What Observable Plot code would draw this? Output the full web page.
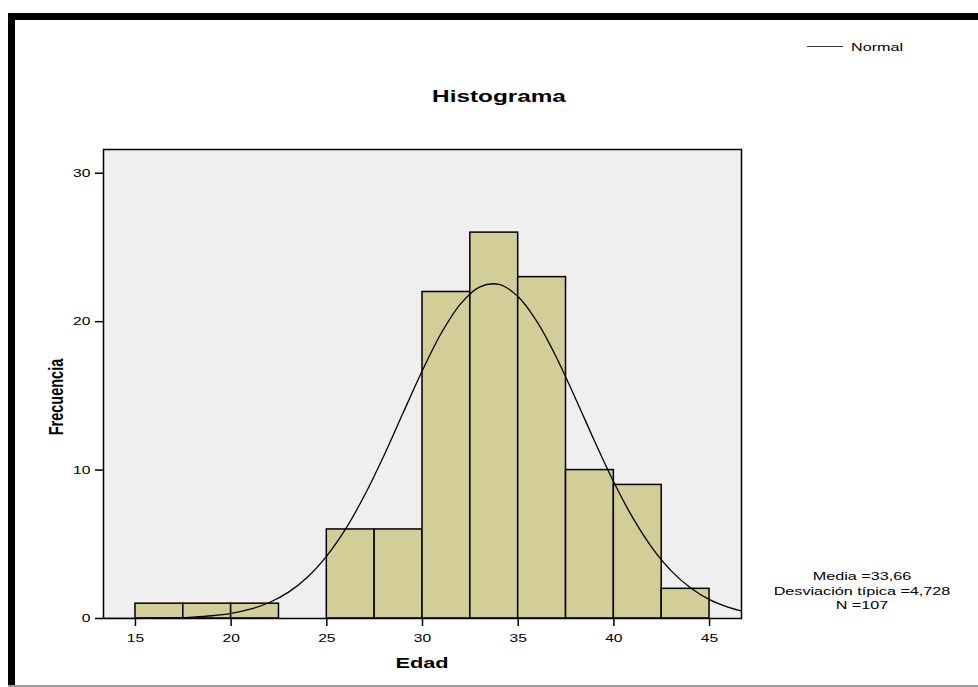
<!DOCTYPE html>
<html><head><meta charset="utf-8">
<script src="https://cdn.jsdelivr.net/npm/d3@7"></script>
<script src="https://cdn.jsdelivr.net/npm/@observablehq/plot@0.6"></script>
<style>
body{margin:0;background:#fff;}
#wrap{position:relative;width:978px;height:687px;overflow:hidden;font-family:"Liberation Sans",Arial,Helvetica,sans-serif;color:#000;}
#chart{position:absolute;left:0;top:0;}
.ov{position:absolute;white-space:nowrap;}
#btop{left:8px;top:13px;width:970px;height:7px;background:#000;}
#bleft{left:8px;top:13px;width:7px;height:674px;background:#000;}
#bbot{left:8px;top:685px;width:970px;height:2px;background:#9a9a9a;}
#title{left:0;width:998px;top:89px;text-align:center;font-weight:bold;font-size:16px;line-height:1;transform:scaleX(1.52);transform-origin:499px 0;}
#xlab{left:0;width:844px;top:655px;text-align:center;font-weight:bold;font-size:15px;line-height:1;transform:scaleX(1.45);transform-origin:422px 0;}
#ylab{left:56px;top:397px;transform:translate(-50%,-50%) scaleX(1.45) rotate(-90deg);font-weight:bold;font-size:14.5px;line-height:1;}
#legline{left:807px;top:46px;width:36px;height:1px;background:#333;}
#legtext{left:851px;top:41px;font-size:11px;line-height:13px;transform:scaleX(1.47);transform-origin:0 0;}
#stats{left:762px;width:200px;top:569px;text-align:center;font-size:11px;line-height:14.5px;transform:scaleX(1.47);transform-origin:100px 0;}
</style></head><body>
<div id="wrap">
  <div id="chart"></div>
  <div class="ov" id="btop"></div>
  <div class="ov" id="bleft"></div>
  <div class="ov" id="bbot"></div>
  <div class="ov" id="title"></div>
  <div class="ov" id="xlab"></div>
  <div class="ov" id="ylab"></div>
  <div class="ov" id="legline"></div>
  <div class="ov" id="legtext"></div>
  <div class="ov" id="stats"></div>
</div>
<script>
// ---- data ----
const titleText = "Histograma";
const xLabel = "Edad";
const yLabel = "Frecuencia";
const legendLabel = "Normal";
const binStart = [15, 17.5, 20, 22.5, 25, 27.5, 30, 32.5, 35, 37.5, 40, 42.5];
const counts   = [1, 1, 1, 0, 6, 6, 22, 26, 23, 10, 9, 2];
const binWidth = 2.5;
// Normal curve (mean 33.66, sd 4.728, N 107)
const curveX = [13.33, 14, 15, 16, 17, 18, 19, 20, 21, 22, 23, 24, 25, 26, 27, 28, 29, 30, 31, 32, 33, 34, 35, 36, 37, 38, 39, 40, 41, 42, 43, 44, 45, 46, 46.67];
const curveY = [0.003, 0.004, 0.009, 0.021, 0.045, 0.094, 0.184, 0.347, 0.626, 1.079, 1.776, 2.80, 4.22, 6.07, 8.37, 11.02, 13.89, 16.73, 19.27, 21.22, 22.35, 22.51, 21.68, 19.97, 17.59, 14.81, 11.93, 9.18, 6.76, 4.76, 3.21, 2.07, 1.27, 0.75, 0.51];
const xTicks = [15, 20, 25, 30, 35, 40, 45];
const yTicks = [0, 10, 20, 30];
const statsLines = ["Media =33,66", "Desviación típica =4,728", "N =107"];

// ---- build ----
const bars = binStart.map((s, i) => ({x1: s, x2: s + binWidth, y: counts[i]})).filter(d => d.y > 0);
const curve = curveX.map((x, i) => ({x, y: curveY[i]}));

const plot = Plot.plot({
  width: 978,
  height: 687,
  marginLeft: 103,
  marginRight: 237,
  marginTop: 149,
  marginBottom: 69,
  style: {fontFamily: '"Liberation Sans", Arial, sans-serif', fontSize: "11px", background: "transparent", color: "#000"},
  x: {domain: [13.33, 46.67], ticks: xTicks, tickSize: 8, tickPadding: 8, label: null},
  y: {domain: [0, 31.6], ticks: yTicks, tickSize: 8, tickPadding: 5, label: null},
  marks: [
    Plot.frame({fill: "#efefef"}),
    Plot.rectY(bars, {x1: "x1", x2: "x2", y: "y", fill: "#d3ce98", stroke: "#000", strokeWidth: 1.5}),
    Plot.line(curve, {x: "x", y: "y", stroke: "#000", strokeWidth: 1.3, curve: "catmull-rom", clip: true}),
    Plot.frame({stroke: "#000", strokeWidth: 1.5}),
    Plot.axisX({ticks: xTicks, tickSize: 8, tickPadding: 8, label: null, strokeWidth: 1.5}),
    Plot.axisY({ticks: yTicks, tickSize: 8, tickPadding: 5, label: null, strokeWidth: 1.5})
  ]
});
// the reference is stretched horizontally: widen tick label glyphs
d3.select(plot).selectAll("text").each(function () {
  const t = this.getAttribute("transform");
  if (t) {
    this.setAttribute("transform", t + " scale(1.42,1)");
  } else {
    const x = +this.getAttribute("x") || 0, y = +this.getAttribute("y") || 0;
    this.removeAttribute("x"); this.removeAttribute("y");
    this.setAttribute("transform", `translate(${x},${y}) scale(1.42,1)`);
  }
});
document.getElementById("chart").appendChild(plot);
document.getElementById("title").textContent = titleText;
document.getElementById("xlab").textContent = xLabel;
document.getElementById("ylab").textContent = yLabel;
document.getElementById("legtext").textContent = legendLabel;
document.getElementById("stats").innerHTML = statsLines.map(s => `<div>${s}</div>`).join("");
</script>
</body></html>
